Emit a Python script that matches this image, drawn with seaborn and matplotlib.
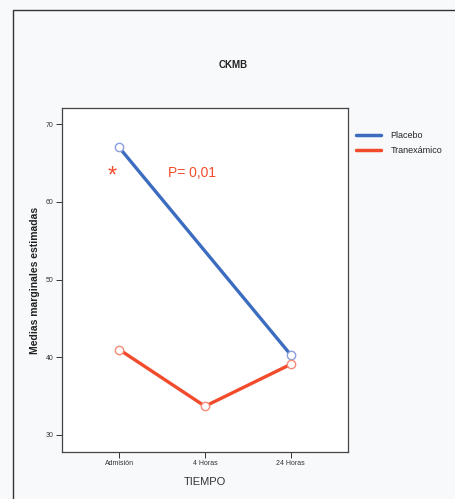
import pandas as pd
import matplotlib
matplotlib.use("Agg")
import matplotlib.pyplot as plt
import seaborn as sns
from matplotlib.patches import Rectangle

# estimated marginal means
tiempos = ["Admisión", "4 Horas", "24 Horas"]
placebo = [67.0, None, 40.3]
tranexamico = [41.0, 33.7, 39.1]
grupos = ["Placebo", "Tranexámico"]
colores = ["#3b6cc0", "#f24b2c"]
bordes = ["#8a9ee0", "#f58a78"]

rows = []
for t, p, q in zip(tiempos, placebo, tranexamico):
    if p is not None:
        rows.append({"TIEMPO": t, "media": p, "grupo": "Placebo"})
    rows.append({"TIEMPO": t, "media": q, "grupo": "Tranexámico"})
df = pd.DataFrame(rows)
df["pos"] = df["TIEMPO"].map({t: i for i, t in enumerate(tiempos)})

sns.set_style("white")
plt.rcParams["font.family"] = ["Liberation Sans", "DejaVu Sans"]

fig = plt.figure(figsize=(4.55, 4.99), dpi=100, facecolor="#f8f9fa")
ax = fig.add_axes([0.136, 0.094, 0.629, 0.690])
ax.set_facecolor("white")

sns.lineplot(data=df, x="pos", y="media", hue="grupo", hue_order=grupos,
             palette=colores, marker="o", markersize=6, markerfacecolor="white",
             linewidth=2.4, ax=ax, legend=True)
for line, b in zip(ax.lines, bordes):
    line.set_markeredgecolor(b)
    line.set_markeredgewidth(1.0)

ax.set_xlim(-0.667, 2.667)
ax.set_ylim(27.8, 72.1)
ax.set_yticks([30, 40, 50, 60, 70])
ax.set_xticks(range(len(tiempos)))
ax.set_xticklabels(tiempos)
ax.tick_params(axis="both", labelsize=5, colors="#333333", length=4, width=0.7,
               direction="out", bottom=True, left=True, pad=2)
for s in ax.spines.values():
    s.set_color("#444444")
    s.set_linewidth(0.9)

ax.set_xlabel("TIEMPO", fontsize=8, color="#333333", labelpad=7)
ax.set_ylabel("Medias marginales estimadas", fontsize=7.5, fontweight="bold",
              color="#222222", labelpad=4)

ax.text(-0.08, 63.2, "*", color="#f24b2c", fontsize=17, ha="center", va="center")
ax.text(0.57, 63.7, "P= 0,01", color="#f24b2c", fontsize=10, ha="left", va="center")

leg = ax.legend(loc="upper left", bbox_to_anchor=(1.0, 0.955), frameon=False,
                fontsize=6.5, handlelength=2.8, handletextpad=1.0, labelspacing=0.6)
for h in leg.legend_handles:
    h.set_marker("")
    h.set_linewidth(2.5)

fig.text(0.512, 0.870, "CKMB", fontsize=7, fontweight="bold", ha="center", va="center",
         color="#222222")
fig.patches.append(Rectangle((13 / 455, -0.05), 1.0, 1 - 10 / 499 + 0.05,
                             transform=fig.transFigure, fill=False,
                             edgecolor="#333333", linewidth=1.0))

fig.savefig("out.png", dpi=100, facecolor=fig.get_facecolor())
